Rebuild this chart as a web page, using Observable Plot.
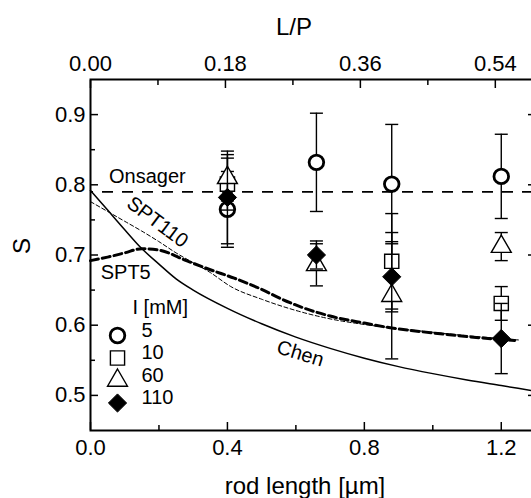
<!DOCTYPE html>
<html>
<head>
<meta charset="utf-8">
<script src="https://cdn.jsdelivr.net/npm/d3@7"></script>
<script src="https://cdn.jsdelivr.net/npm/@observablehq/plot@0.6"></script>
<style>
  body { margin: 0; background: #fff; }
  svg { font-family: "Liberation Sans", Arial, Helvetica, sans-serif; }
</style>
</head>
<body>
<div id="chart"></div>
<script>
// Measured order parameter S versus rod length, at four ionic strengths I [mM]
const rodLength = [0.40, 0.66, 0.88, 1.20];
const ionicLabels = ["5", "10", "60", "110"];
const S5 = [0.765, 0.832, 0.801, 0.812];
const err5 = [0.054, 0.070, 0.085, 0.060];
const S10 = [0.801, null, 0.691, 0.631];
const err10 = [0.037, null, 0.068, 0.024];
const S60 = [0.810, 0.686, 0.642, 0.712];
const err60 = [0.033, 0.030, 0.090, 0.020];
const S110 = [0.782, 0.700, 0.669, 0.581];
const err110 = [0.066, 0.020, 0.050, 0.050];

// Theory: Onsager limit, Chen's semiflexible result, scaled particle theory at 5 and 110 mM
const onsagerS = 0.79;
const chenL = [0, 0.05, 0.10, 0.146, 0.20, 0.25, 0.30, 0.40, 0.50, 0.60, 0.70, 0.80, 0.90, 1.00, 1.10, 1.20, 1.30];
const chenS = [0.792, 0.764, 0.736, 0.711, 0.687, 0.666, 0.650, 0.624, 0.602, 0.583, 0.567, 0.553, 0.541, 0.531, 0.522, 0.514, 0.506];
const spt5L = [0, 0.05, 0.10, 0.15, 0.20, 0.28, 0.35, 0.42, 0.50, 0.555, 0.62, 0.70, 0.80, 0.88, 1.00, 1.14, 1.25];
const spt5S = [0.692, 0.697, 0.703, 0.709, 0.707, 0.692, 0.679, 0.667, 0.651, 0.638, 0.625, 0.613, 0.603, 0.596, 0.589, 0.582, 0.578];
const spt110L = [0, 0.05, 0.10, 0.15, 0.20, 0.25, 0.30, 0.35, 0.41, 0.50, 0.60, 0.70, 0.80, 0.90, 1.00, 1.10, 1.20, 1.25];
const spt110S = [0.776, 0.762, 0.748, 0.734, 0.719, 0.703, 0.689, 0.675, 0.655, 0.637, 0.621, 0.609, 0.601, 0.595, 0.590, 0.585, 0.581, 0.579];

// Axis ticks; the top axis is L/P with persistence length P in µm
const persistence = 2.19;
const xTicks = [0, 0.4, 0.8, 1.2];
const xMinor = [0.2, 0.6, 1.0];
const lpTicks = [0.00, 0.18, 0.36, 0.54];
const lpMinor = [0.09, 0.27, 0.45];
const yTicks = [0.5, 0.6, 0.7, 0.8, 0.9];
const yMinor = [0.55, 0.65, 0.75, 0.85];

const toRows = (xs, ys) => xs.map((x, i) => ({x, y: ys[i]}));

const series = [
  {label: ionicLabels[0], S: S5, err: err5, symbol: "circle", r: 7.3, fill: "white", sw: 2.8},
  {label: ionicLabels[1], S: S10, err: err10, symbol: "square", r: 8, fill: "white", sw: 1.4},
  {label: ionicLabels[2], S: S60, err: err60, symbol: "triangle", r: 7.4, fill: "white", sw: 1.4},
  {label: ionicLabels[3], S: S110, err: err110, symbol: "diamond2", r: 8.2, fill: "black", sw: 1}
];

// horizontal error-bar cap drawn as a dot symbol
const cap = {draw(context, size) { const w = Math.sqrt(size / Math.PI); context.moveTo(-w, 0); context.lineTo(w, 0); }};

const tickFont = 22;
const blank = () => "";

const marks = [
  // theory curves
  Plot.ruleY([onsagerS], {stroke: "black", strokeWidth: 1.8, strokeDasharray: "11,9", strokeDashoffset: 8}),
  Plot.line(toRows(chenL, chenS), {x: "x", y: "y", stroke: "black", strokeWidth: 1.5, curve: "monotone-x"}),
  Plot.line(toRows(spt110L, spt110S), {x: "x", y: "y", stroke: "black", strokeWidth: 1, strokeDasharray: "4,2.5", curve: "monotone-x"}),
  Plot.line(toRows(spt5L, spt5S), {x: "x", y: "y", stroke: "black", strokeWidth: 3, strokeDasharray: "8,4", curve: "monotone-x"}),

  // curve labels, anchored on their curves
  Plot.text([{x: 0.166, y: onsagerS}], {x: "x", y: "y", text: () => "Onsager", dy: -15, fontSize: 20}),
  Plot.text([{x: 0.19, y: 0.724}], {x: "x", y: "y", text: () => "SPT110", rotate: 37, dx: 2, dy: -16, fontSize: 20}),
  Plot.text([{x: 0.10, y: 0.703}], {x: "x", y: "y", text: () => "SPT5", dx: 1, dy: 20, fontSize: 20}),
  Plot.text([{x: 0.613, y: 0.581}], {x: "x", y: "y", text: () => "Chen", rotate: 17, dy: 15, fontSize: 20}),
];

// data points with error bars
series.forEach(s => {
  const rows = rodLength.map((L, i) => ({L, S: s.S[i], e: s.err[i]})).filter(d => d.S != null);
  marks.push(
    Plot.ruleX(rows, {x: "L", y1: d => d.S - d.e, y2: d => d.S + d.e, stroke: "black", strokeWidth: 1.4}),
    Plot.dot(rows, {x: "L", y: d => d.S + d.e, symbol: cap, r: 6.5, fill: "none", stroke: "black", strokeWidth: 1.4}),
    Plot.dot(rows, {x: "L", y: d => d.S - d.e, symbol: cap, r: 6.5, fill: "none", stroke: "black", strokeWidth: 1.4}),
    Plot.dot(rows, {x: "L", y: "S", symbol: s.symbol, r: s.r, fill: s.fill, stroke: "black", strokeWidth: s.sw})
  );
});

// legend inside the frame
marks.push(Plot.text(["I [mM]"], {frameAnchor: "bottom-left", text: d => d, dx: 42, dy: -117, textAnchor: "start", fontSize: 20}));
series.forEach((s, i) => {
  marks.push(
    Plot.dot([s], {frameAnchor: "bottom-left", dx: 27, dy: -95 + i * 22.5, symbol: s.symbol, r: s.r, fill: s.fill, stroke: "black", strokeWidth: s.sw}),
    Plot.text([s], {frameAnchor: "bottom-left", text: d => d.label, dx: 51, dy: -94 + i * 22.5, textAnchor: "start", fontSize: 20})
  );
});

// frame and inward-pointing ticks on all four sides
marks.push(
  Plot.frame({stroke: "black", strokeWidth: 2}),
  Plot.axisX({ticks: xTicks, anchor: "bottom", tickSize: -8, tickPadding: 17, tickFormat: d3.format(".1f"), fontSize: tickFont, strokeWidth: 1.5, label: null}),
  Plot.axisX({ticks: xMinor, anchor: "bottom", tickSize: -5, tickFormat: blank, strokeWidth: 1.5, label: null}),
  Plot.axisX({ticks: lpTicks.map(v => v * persistence), anchor: "top", tickSize: -8, tickPadding: 17, tickFormat: d => (d / persistence).toFixed(2), fontSize: tickFont, strokeWidth: 1.5, label: null}),
  Plot.axisX({ticks: lpMinor.map(v => v * persistence), anchor: "top", tickSize: -5, tickFormat: blank, strokeWidth: 1.5, label: null}),
  Plot.axisY({ticks: yTicks, anchor: "left", tickSize: -8, tickPadding: 13, tickFormat: d3.format(".1f"), fontSize: tickFont, strokeWidth: 1.5, label: null}),
  Plot.axisY({ticks: yMinor, anchor: "left", tickSize: -5, tickFormat: blank, strokeWidth: 1.5, label: null}),
  Plot.axisY({ticks: yTicks, anchor: "right", tickSize: -8, tickFormat: blank, strokeWidth: 1.5, label: null}),
  Plot.axisY({ticks: yMinor, anchor: "right", tickSize: -5, tickFormat: blank, strokeWidth: 1.5, label: null}),
  // axis titles
  Plot.text(["rod length [µm]"], {frameAnchor: "bottom", text: d => d, dx: -8, dy: 56, fontSize: 24, lineAnchor: "middle"}),
  Plot.text(["L/P"], {frameAnchor: "top", text: d => d, dx: -19, dy: -52, fontSize: 24, lineAnchor: "middle"}),
  Plot.text(["S"], {frameAnchor: "left", text: d => d, rotate: -90, dx: -68, dy: -1, fontSize: 24, lineAnchor: "middle"})
);

const chart = Plot.plot({
  width: 531,
  height: 498,
  marginLeft: 90,
  marginRight: -4,
  marginTop: 79,
  marginBottom: 68,
  style: {background: "white", color: "black", fontFamily: "'Liberation Sans', Arial, sans-serif"},
  x: {domain: [0, 1.3]},
  y: {domain: [0.45, 0.95]},
  marks
});
document.getElementById("chart").appendChild(chart);
</script>
</body>
</html>
